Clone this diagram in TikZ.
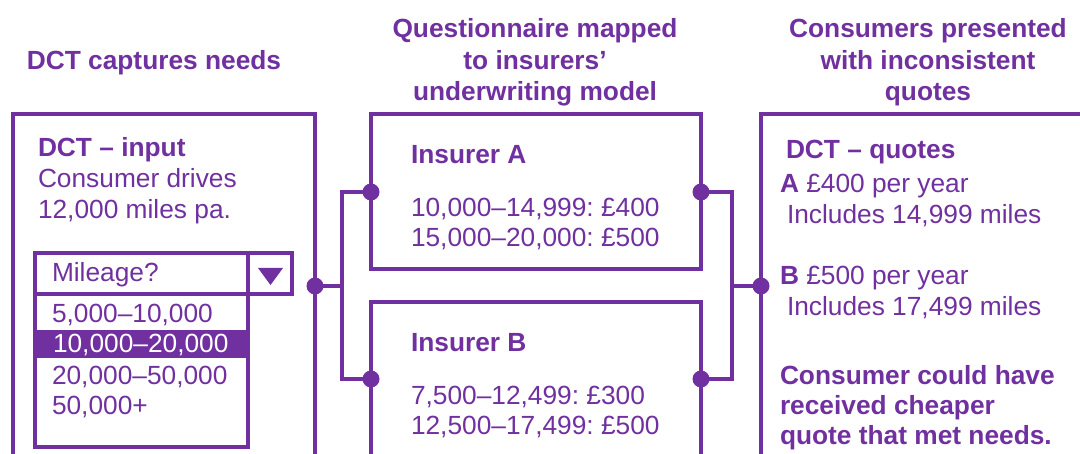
\documentclass[tikz,border=0pt]{standalone}
\usepackage{fontspec}
\setmainfont{Liberation Sans}
\definecolor{ink}{HTML}{7030A0}
\frenchspacing
\begin{document}
\begin{tikzpicture}[x=1pt,y=-1pt,
  frame/.style={draw=ink, line width=4pt, rectangle, inner sep=0pt, outer sep=0pt},
  wire/.style={draw=ink, line width=4pt},
  dot/.style={circle, fill=ink, inner sep=0pt, outer sep=0pt, minimum size=17pt},
  txt/.style={inner sep=0pt, outer sep=0pt, text=ink, anchor=base west,
    font=\fontsize{26.3}{31}\selectfont},
  btxt/.style={txt, font=\fontsize{26.3}{31}\selectfont\bfseries},
  head/.style={btxt, anchor=base}]
\useasboundingbox (0,0) rectangle (1080,454);
\clip (0,0) rectangle (1080,454);

% column headings
\node[head] (h1) at (154,70) {DCT captures needs};
\node[head] (h2a) at (535,38) {Questionnaire mapped};
\node[head] (h2b) at (535,70) {to insurers’};
\node[head] (h2c) at (535,101) {underwriting model};
\node[head] (h3a) at (928,38) {Consumers presented};
\node[head] (h3b) at (928,70) {with inconsistent};
\node[head] (h3c) at (928,101) {quotes};

% main frames (open towards the lower / right edge)
\node[frame, minimum width=302pt, minimum height=386pt] (lbox) at (164,307) {};
\node[frame, minimum width=330pt, minimum height=155pt] (boxA) at (536,191.5) {};
\node[frame, minimum width=330pt, minimum height=198pt] (boxB) at (536,401) {};
\node[frame, minimum width=339pt, minimum height=386pt] (rbox) at (930.5,307) {};

% drop-down widget
\node[frame, minimum width=257pt, minimum height=41pt] (hdr) at (163.5,273.5) {};
\node[frame, minimum width=213pt, minimum height=153pt] (list) at (141.5,370.5) {};
\draw[wire] (248,253) -- (248,294);
\fill[ink] (258,268) -- (283,268) -- (270.5,285) -- cycle;
\fill[ink] (35,330) rectangle (248,358);

% left column text
\node[btxt] (inTitle) at (38,157) {DCT – input};
\node[txt] (in1) at (38,188) {Consumer drives};
\node[txt] (in2) at (38,219) {12,000 miles pa.};
\node[txt] (mil) at (52,282) {Mileage?};
\node[txt] (o1) at (52,323) {5,000–10,000};
\node[txt, text=white] (o2) at (53,353) {10,000–20,000};
\node[txt] (o3) at (52,385) {20,000–50,000};
\node[txt] (o4) at (52,415) {50,000+};

% insurer text
\node[btxt] (aT) at (411,164) {Insurer A};
\node[txt] (a1) at (411,217) {10,000–14,999: £400};
\node[txt] (a2) at (411,247) {15,000–20,000: £500};
\node[btxt] (bT) at (411,352) {Insurer B};
\node[txt] (b1) at (411,405) {7,500–12,499: £300};
\node[txt] (b2) at (411,435) {12,500–17,499: £500};

% quotes text
\node[btxt] (qT) at (786,159) {DCT – quotes};
\node[txt] (q1) at (780,193) {\textbf{A} £400 per year};
\node[txt] (q2) at (787,224) {Includes 14,999 miles};
\node[txt] (q3) at (780,285) {\textbf{B} £500 per year};
\node[txt] (q4) at (787,316) {Includes 17,499 miles};
\node[btxt] (c1) at (780,385) {Consumer could have};
\node[btxt] (c2) at (780,415) {received cheaper};
\node[btxt] (c3) at (780,445) {quote that met needs.};

% junction points
\coordinate (jl) at (342,286);
\coordinate (jr) at (732,286);

% connector dots
\node[dot] (d0) at (lbox.east |- jl) {};
\node[dot] (dAin) at (371,192) {};
\node[dot] (dBin) at (371,379) {};
\node[dot] (dAout) at (701,192) {};
\node[dot] (dBout) at (701,379) {};
\node[dot] (dQ) at (rbox.west |- jr) {};

% connectors
\draw[wire] (d0.center) -- (jl);
\draw[wire] (dAin.center) -| (jl) |- (dBin.center);
\draw[wire] (dAout.center) -| (jr) |- (dBout.center);
\draw[wire] (jr) -- (dQ.center);
\end{tikzpicture}
\end{document}
